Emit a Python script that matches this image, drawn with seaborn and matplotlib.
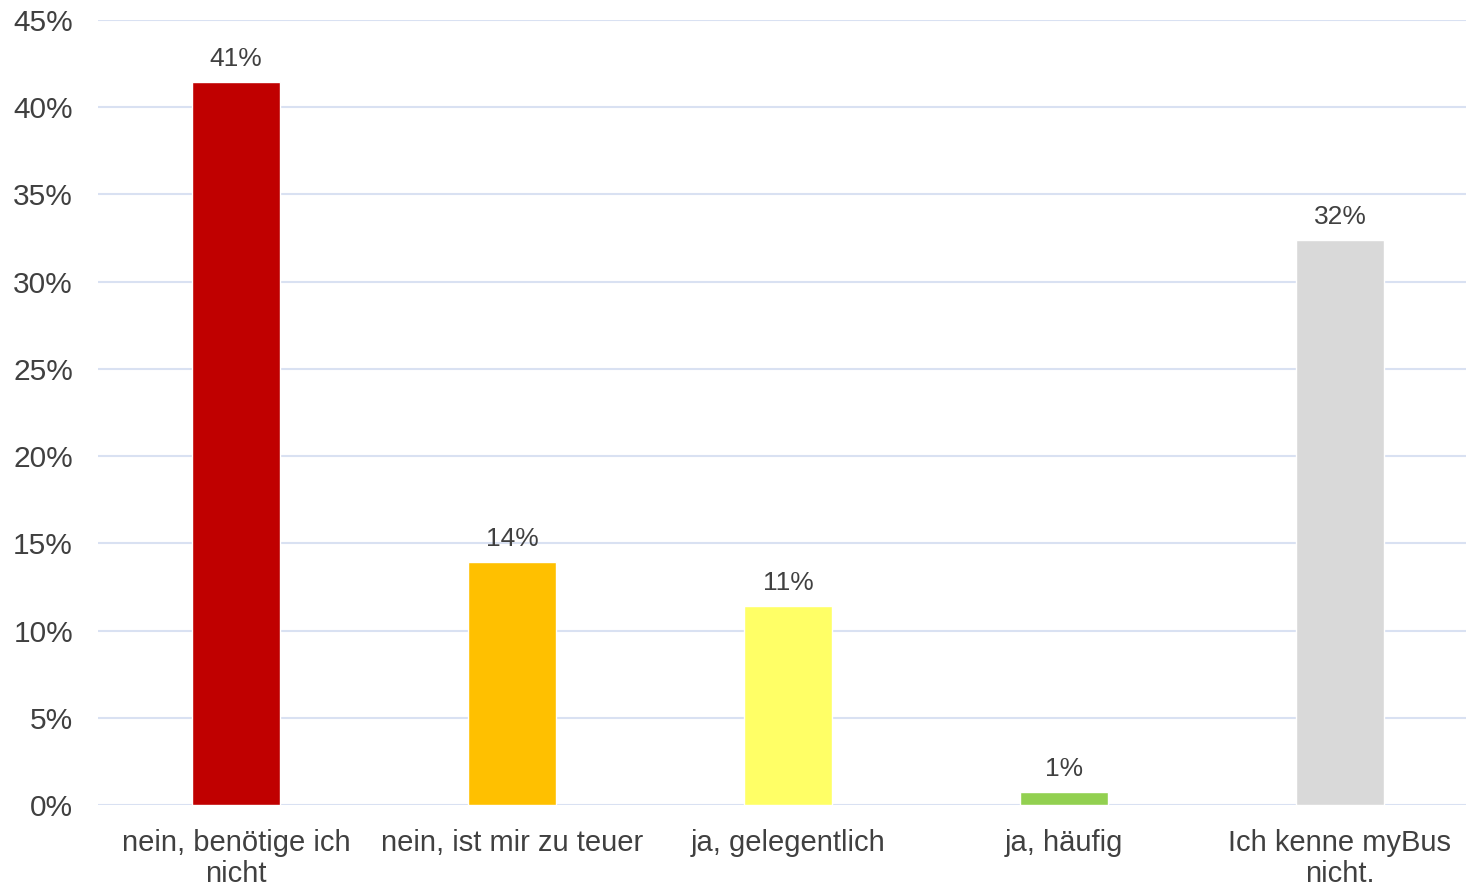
import matplotlib.pyplot as plt
import seaborn as sns
import pandas as pd
from matplotlib.ticker import FuncFormatter

categories = ["nein, benötige ich\nnicht", "nein, ist mir zu teuer", "ja, gelegentlich",
              "ja, häufig", "Ich kenne myBus\nnicht."]
values = [41.45, 13.93, 11.4, 0.75, 32.4]
colors = ["#C00000", "#FFC000", "#FFFF66", "#92D050", "#D9D9D9"]
y_ticks = [0, 5, 10, 15, 20, 25, 30, 35, 40, 45]

sns.set_theme(style="white")
plt.rcParams['font.family'] = ['Liberation Sans', 'DejaVu Sans']

df = pd.DataFrame({'cat': categories, 'val': values})

fig = plt.figure(figsize=(14.66, 8.86), dpi=100)
# plot area runs slightly past the right edge of the image, as in the original
ax = fig.add_axes([98 / 1466, 1 - 805 / 886, 1380 / 1466, 785 / 886])

sns.barplot(data=df, x='cat', y='val', hue='cat', palette=colors, legend=False,
            width=0.32, saturation=1, ax=ax, zorder=3)

ax.set_ylim(0, 45)
ax.set_xlim(-0.5, len(categories) - 0.5)
ax.set_yticks(y_ticks)
ax.yaxis.set_major_formatter(FuncFormatter(lambda v, p: f"{v:.0f}%"))
ax.grid(axis='y', color='#D9E1F2', linewidth=1.5, zorder=0)
ax.set_axisbelow(True)
for s in ax.spines.values():
    s.set_visible(False)

ax.tick_params(axis='y', length=0, pad=18, labelsize=21.5, labelcolor='#404040')
ax.tick_params(axis='x', length=0, pad=17, labelsize=21, labelcolor='#404040')
for lbl in ax.get_xticklabels():
    lbl.set_linespacing(1.15)
ax.set_xlabel('')
ax.set_ylabel('')

for i, v in enumerate(values):
    ax.annotate(f"{v:.0f}%", (i, v), xytext=(0, 8), textcoords='offset points',
                ha='center', va='bottom', fontsize=19, color='#404040')

fig.savefig("out.png", dpi=100)
